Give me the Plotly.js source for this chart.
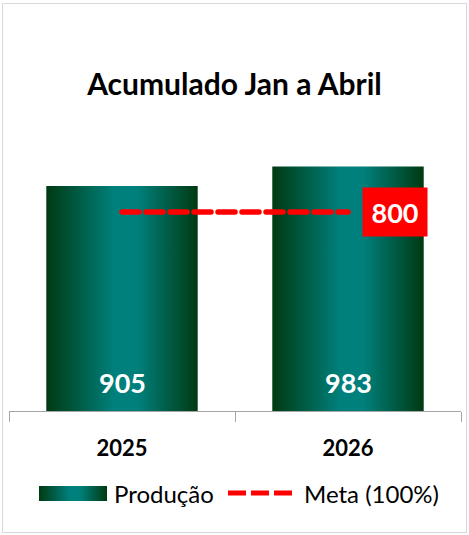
<!DOCTYPE html>
<html>
<head>
<meta charset="utf-8">
<script src="https://cdn.plot.ly/plotly-3.0.1.min.js"></script>
<style>
  body { margin: 0; background: #fff; }
  #grafico { width: 469px; height: 535px; }
  #moldura { position: absolute; left: 2px; top: 3px; width: 463px; height: 528px; border: 1px solid #d9d9d9; pointer-events: none; }
</style>
</head>
<body>
<div id="grafico"></div>
<div id="moldura"></div>
<script>
// dados
var anos = ["2025", "2026"];
var producao = [905, 983];
var meta = [800, 800];
var metaLabel = "800";

var fonte = "Lato, 'Open Sans', sans-serif";

// pixel -> paper (area do grafico: x 9..461, y 130..411)
function px(x) { return (x - 9) / 452; }
function py(y) { return (411 - y) / 281; }

var traceProd = {
  type: "bar",
  name: "Produção",
  x: anos,
  y: producao,
  width: 0.67,
  marker: { color: "#00807c", line: { width: 0 } },
  showlegend: false,
  hoverinfo: "skip"
};

var traceMeta = {
  type: "scatter",
  mode: "lines",
  name: "Meta (100%)",
  x: anos,
  y: meta,
  line: { color: "#ff0000", width: 5.5, dash: "17px,7px" },
  showlegend: false,
  hoverinfo: "skip"
};

var anotacoes = [];
anos.forEach(function (ano, i) {
  anotacoes.push({
    x: i, y: 0, xref: "x", yref: "y",
    text: "<b>" + producao[i] + "</b>",
    showarrow: false, yanchor: "bottom", yshift: 10,
    font: { family: fonte, size: 27, color: "#ffffff" }
  });
});
anotacoes.push({
  x: anos.length - 1, y: meta[meta.length - 1], xref: "x", yref: "y",
  text: "<b>" + metaLabel + "</b>",
  showarrow: false, xanchor: "left", xshift: 14,
  bgcolor: "#ff0000", width: 60, height: 44, borderpad: 2,
  font: { family: fonte, size: 27, color: "#ffffff" }
});
// legenda feita a mao
anotacoes.push({
  x: px(112), y: py(493), xref: "paper", yref: "paper",
  text: "Produção", showarrow: false, xanchor: "left", yanchor: "middle",
  font: { family: fonte, size: 24, color: "#000000" }
});
anotacoes.push({
  x: px(302), y: py(493), xref: "paper", yref: "paper",
  text: "Meta (100%)", showarrow: false, xanchor: "left", yanchor: "middle",
  font: { family: fonte, size: 24, color: "#000000" }
});

var formas = [
  { type: "rect", xref: "paper", yref: "paper",
    x0: px(39), x1: px(107), y0: py(486), y1: py(501),
    fillcolor: "#00807c", line: { width: 0 } },
  { type: "line", xref: "paper", yref: "paper",
    x0: px(228), x1: px(292), y0: py(493), y1: py(493),
    line: { color: "#ff0000", width: 5, dash: "18px,5px" } }
];

var layout = {
  width: 469,
  height: 535,
  margin: { l: 9, r: 8, t: 130, b: 124 },
  paper_bgcolor: "#ffffff",
  plot_bgcolor: "#ffffff",
  title: {
    text: "<b>Acumulado Jan a Abril</b>",
    font: { family: fonte, size: 30, color: "#000000" },
    x: 0.5, xanchor: "center",
    y: 1 - 84 / 535, yref: "container", yanchor: "middle"
  },
  xaxis: {
    type: "category",
    categoryorder: "array", categoryarray: anos,
    range: [-0.5, anos.length - 0.5], autorange: false,
    showline: true, linecolor: "#a6a6a6", linewidth: 1,
    ticks: "outside", tickson: "boundaries", ticklen: 10, tickcolor: "#a6a6a6",
    tickangle: 0,
    tickfont: { family: fonte, size: 22, color: "#000000" },
    ticklabelstandoff: 18,
    showgrid: false, zeroline: false, fixedrange: true
  },
  yaxis: {
    range: [0, 1130], autorange: false,
    visible: false, showgrid: false, zeroline: false, fixedrange: true
  },
  showlegend: false,
  annotations: anotacoes,
  shapes: formas
};

var config = { staticPlot: true, displayModeBar: false };

Plotly.newPlot("grafico", [traceProd, traceMeta], layout, config).then(function (gd) {
  var ns = "http://www.w3.org/2000/svg";
  var svg = gd.querySelector(".main-svg");
  var defs = svg.querySelector("defs");
  var grad = document.createElementNS(ns, "linearGradient");
  grad.setAttribute("id", "gradProd");
  grad.setAttribute("x1", "0"); grad.setAttribute("x2", "1");
  grad.setAttribute("y1", "0"); grad.setAttribute("y2", "0");
  [[0, "#003a12"], [0.45, "#00807c"], [0.6, "#00807c"], [1, "#003a12"]].forEach(function (s) {
    var st = document.createElementNS(ns, "stop");
    st.setAttribute("offset", s[0]);
    st.setAttribute("stop-color", s[1]);
    grad.appendChild(st);
  });
  defs.appendChild(grad);

  gd.querySelectorAll(".barlayer .point path").forEach(function (p) {
    p.style.fill = "url(#gradProd)";
  });
  var shapePaths = gd.querySelectorAll(".shapelayer path");
  if (shapePaths.length) shapePaths[0].style.fill = "url(#gradProd)";
  gd.querySelectorAll(".scatterlayer .js-line").forEach(function (p) {
    p.style.strokeLinecap = "round";
  });
  gd.querySelectorAll(".xtick text").forEach(function (t) {
    t.style.fontWeight = "bold";
  });
});
</script>
</body>
</html>
